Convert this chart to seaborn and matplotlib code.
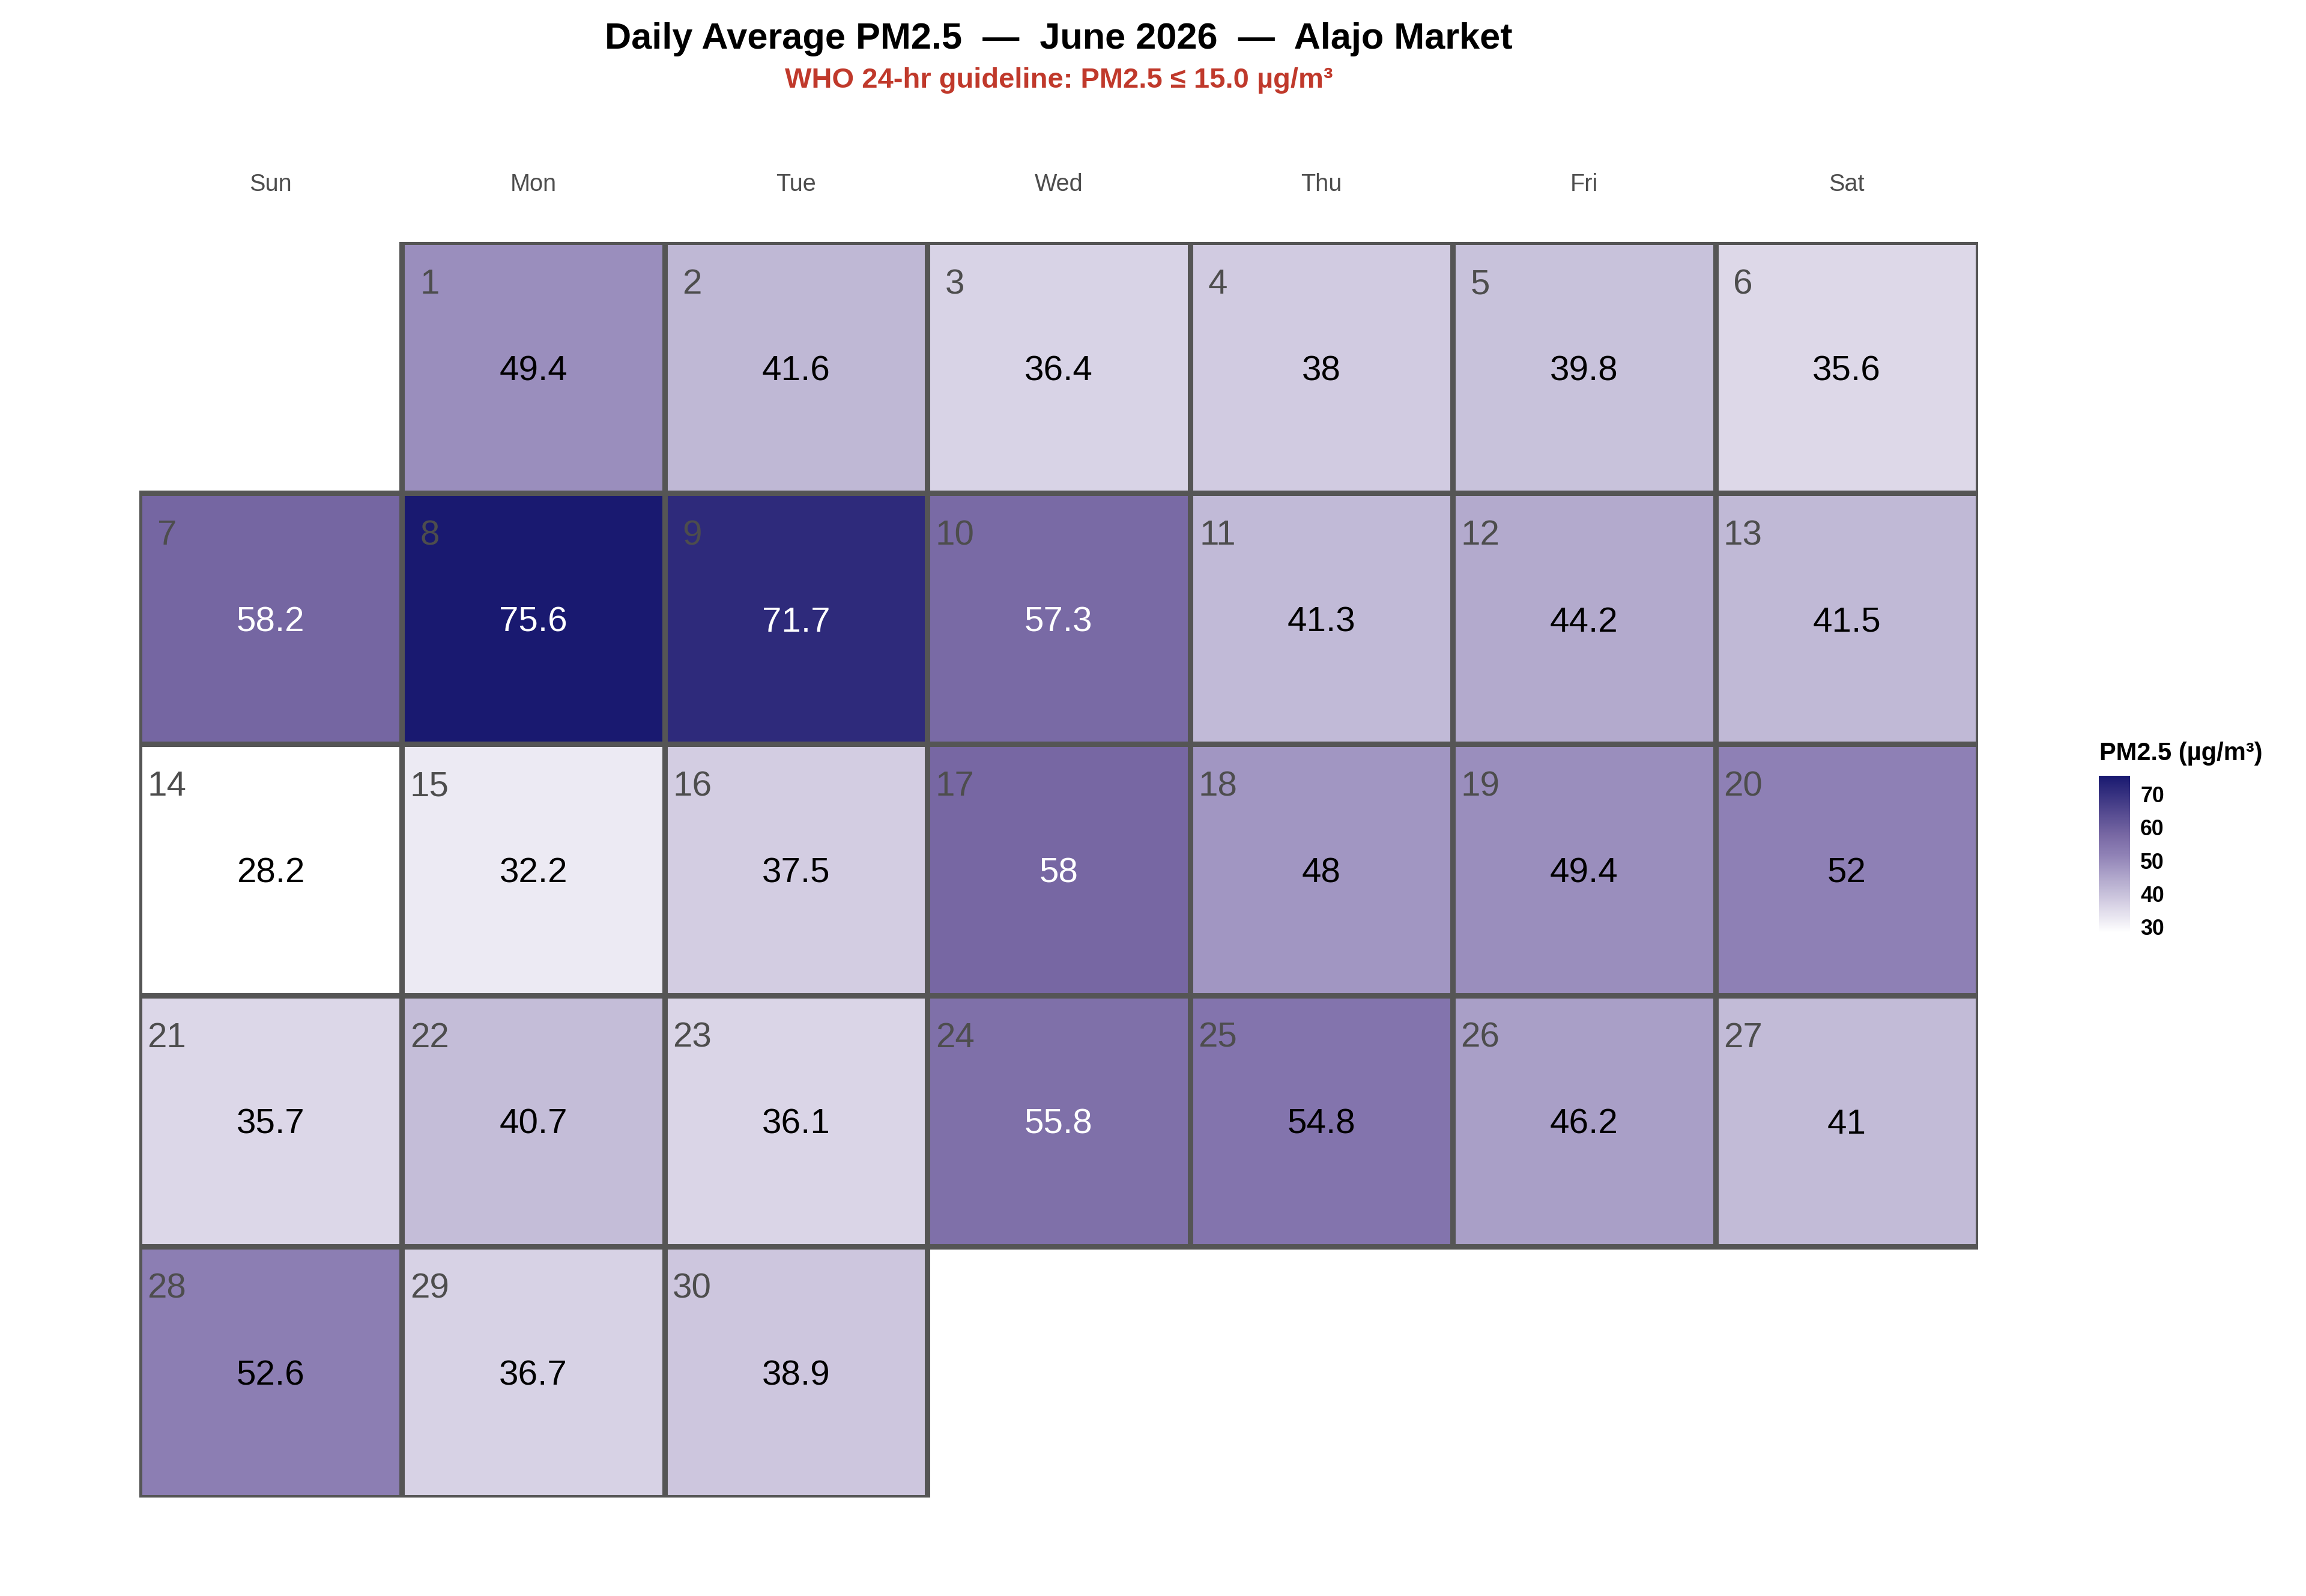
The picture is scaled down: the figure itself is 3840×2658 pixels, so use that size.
import datetime

import numpy as np
import matplotlib
matplotlib.use("Agg")
import matplotlib.pyplot as plt
from matplotlib.colors import LinearSegmentedColormap, to_rgba
import seaborn as sns

# ---- data -------------------------------------------------------------
year = 2026
month = 6
days = list(range(1, 31))
pm25 = [
    49.4, 41.6, 36.4, 38.0, 39.8, 35.6,
    58.2, 75.6, 71.7, 57.3, 41.3, 44.2, 41.5,
    28.2, 32.2, 37.5, 58.0, 48.0, 49.4, 52.0,
    35.7, 40.7, 36.1, 55.8, 54.8, 46.2, 41.0,
    52.6, 36.7, 38.9,
]
weekdays = ["Sun", "Mon", "Tue", "Wed", "Thu", "Fri", "Sat"]
cbar_ticks = [30, 40, 50, 60, 70]

# colour stops (value, colour) for the fill scale
stop_values = [28.2, 52.0, 58.0, 75.6]
stop_colors = ["#ffffff", "#8e80b5", "#7767a3", "#191970"]

title = "Daily Average PM2.5  \u2014  June 2026  \u2014  Alajo Market"
subtitle = "WHO 24-hr guideline: PM2.5 \u2264 15.0 \u00b5g/m\u00b3"
legend_title = "PM2.5 (\u00b5g/m\u00b3)"

# ---- calendar layout ----------------------------------------------------
first_col = (datetime.date(year, month, 1).weekday() + 1) % 7  # Sun = 0
cols = [(first_col + d - 1) % 7 for d in days]
rows = [(first_col + d - 1) // 7 for d in days]
n_rows = max(rows) + 1

grid = np.full((n_rows, 7), np.nan)
for r, c, v in zip(rows, cols, pm25):
    grid[r, c] = v

vmin, vmax = min(pm25), max(pm25)
cmap = LinearSegmentedColormap.from_list(
    "pm",
    [((s - vmin) / (vmax - vmin), col) for s, col in zip(stop_values, stop_colors)],
)

# ---- figure -------------------------------------------------------------
sns.set_theme(style="white")
plt.rcParams["font.family"] = ["Liberation Sans", "DejaVu Sans"]

fig = plt.figure(figsize=(12.8, 8.86), dpi=300)
ax = fig.add_axes([0.0604, 0.0617, 0.7974, 0.7867])
cax = fig.add_axes([0.9102, 0.4157, 0.0136, 0.0982])

sns.heatmap(
    grid,
    ax=ax,
    cbar_ax=cax,
    cmap=cmap,
    vmin=vmin,
    vmax=vmax,
    linewidths=1.7,
    linecolor="#555555",
    xticklabels=weekdays,
    yticklabels=False,
)

# no borders around the empty calendar slots
mesh = ax.collections[0]
edge = np.array([
    to_rgba("#555555") if not np.isnan(v) else (0, 0, 0, 0)
    for v in grid.ravel()
])
mesh.set_edgecolor(edge)

ax.tick_params(
    axis="x",
    top=True,
    labeltop=True,
    bottom=False,
    labelbottom=False,
    length=0,
    pad=18.5,
    labelsize=9.5,
    labelcolor="#4d4d4d",
)
ax.tick_params(axis="y", length=0)

for d, r, c, v in zip(days, rows, cols, pm25):
    ax.text(
        c + 0.105, r + 0.17, str(d),
        ha="center", va="center",
        fontsize=14, color="#4d4d4d",
    )
    ax.text(
        c + 0.5, r + 0.515, f"{v:g}",
        ha="center", va="center",
        fontsize=14,
        color="white" if v > 55 else "black",
    )

cbar = ax.collections[0].colorbar
cbar.set_ticks(cbar_ticks)
cbar.outline.set_visible(False)
cax.tick_params(
    left=True, right=True, direction="in",
    color="white", length=2.4, width=0.6,
    labelsize=8.6, pad=4, labelcolor="black",
)
for lab in cax.get_yticklabels():
    lab.set_fontweight("bold")

fig.text(0.9105, 0.5278, legend_title, ha="left", va="center",
         fontsize=10, fontweight="bold", color="black")

center_x = 0.0604 + 0.7974 / 2
fig.text(center_x, 0.9755, title, ha="center", va="center",
         fontsize=14.7, fontweight="bold", color="black")
fig.text(center_x, 0.9495, subtitle, ha="center", va="center",
         fontsize=11.3, fontweight="bold", color="#c0392b")

fig.savefig("out.png", dpi=300, facecolor="white")
